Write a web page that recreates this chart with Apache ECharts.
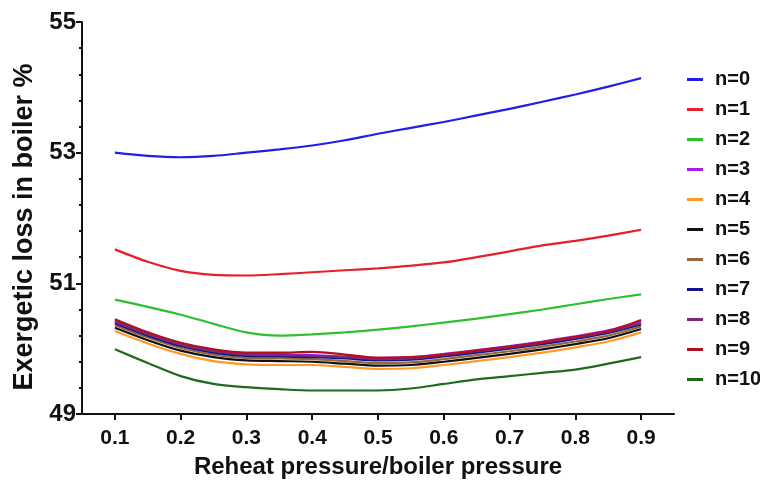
<!DOCTYPE html>
<html><head><meta charset="utf-8">
<script src="https://cdn.jsdelivr.net/npm/echarts@6/dist/echarts.min.js"></script>
<style>html,body{margin:0;padding:0;background:#fff}#c{width:760px;height:484px}</style>
</head><body><div id="c"></div>
<script>
const xValues = [0.1,0.15,0.2,0.25,0.3,0.35,0.4,0.45,0.5,0.55,0.6,0.65,0.7,0.75,0.8,0.85,0.9];
const xTicks = [0.1,0.2,0.3,0.4,0.5,0.6,0.7,0.8,0.9];
const seriesNames = ['n=0','n=1','n=2','n=3','n=4','n=5','n=6','n=7','n=8','n=9','n=10'];
const n0 = [53.00,52.95,52.93,52.95,53.00,53.05,53.11,53.19,53.29,53.38,53.47,53.57,53.67,53.78,53.89,54.01,54.14];
const n1 = [51.52,51.33,51.19,51.13,51.12,51.14,51.17,51.20,51.23,51.27,51.32,51.40,51.49,51.58,51.65,51.73,51.82];
const n2 = [50.75,50.64,50.52,50.38,50.25,50.20,50.22,50.25,50.29,50.34,50.40,50.46,50.53,50.60,50.68,50.76,50.83];
const n3 = [50.43,50.24,50.08,49.98,49.93,49.92,49.90,49.88,49.86,49.87,49.92,49.98,50.04,50.11,50.19,50.28,50.42];
const n4 = [50.27,50.08,49.92,49.81,49.76,49.75,49.75,49.72,49.69,49.70,49.75,49.81,49.87,49.94,50.02,50.11,50.25];
const n5 = [50.32,50.13,49.97,49.87,49.82,49.81,49.80,49.77,49.74,49.75,49.80,49.86,49.92,49.99,50.07,50.16,50.30];
const n6 = [50.36,50.17,50.01,49.91,49.86,49.85,49.84,49.81,49.78,49.79,49.84,49.90,49.96,50.03,50.11,50.20,50.34];
const n7 = [50.39,50.20,50.04,49.94,49.89,49.88,49.87,49.85,49.82,49.83,49.88,49.94,50.00,50.07,50.15,50.24,50.37];
const n8 = [50.41,50.22,50.06,49.96,49.91,49.90,49.89,49.87,49.84,49.85,49.90,49.96,50.02,50.09,50.17,50.26,50.39];
const n9 = [50.45,50.25,50.09,49.99,49.94,49.94,49.95,49.91,49.86,49.87,49.91,49.97,50.03,50.10,50.18,50.27,50.44];
const n10 = [49.99,49.78,49.58,49.46,49.41,49.38,49.36,49.36,49.36,49.39,49.46,49.53,49.58,49.63,49.68,49.77,49.87];
const allSeries = [n0,n1,n2,n3,n4,n5,n6,n7,n8,n9,n10];
const colors = ['#1f1fe6','#e4202a','#2fc02f','#a020e8','#ff9a2a','#111111','#94683e','#14148c','#7a2a78','#b01020','#1e6b1e'];

const chart = echarts.init(document.getElementById('c'), null, {renderer:'canvas'});
const font = 'Liberation Sans, Arial, sans-serif';
chart.setOption({
  animation:false,
  backgroundColor:'#ffffff',
  color: colors,
  grid:{left:82,right:86,top:22,bottom:67,containLabel:false},
  legend:{
    orient:'vertical', left:682, top:64,
    icon:'rect', itemWidth:16, itemHeight:3, itemGap:9,
    data: seriesNames,
    textStyle:{fontFamily:font,fontWeight:'bold',fontSize:20,color:'#111',lineHeight:21,padding:[0,0,0,7]}
  },
  xAxis:{
    type:'value', min:0.05, max:0.95,
    name:'Reheat pressure/boiler pressure', nameLocation:'middle', nameGap:41,
    nameTextStyle:{fontFamily:font,fontWeight:'bold',fontSize:24,color:'#111'},
    axisLine:{show:true,onZero:false,lineStyle:{color:'#111',width:2}},
    axisTick:{show:true,length:6,lineStyle:{color:'#111',width:2},customValues:xTicks},
    axisLabel:{fontFamily:font,fontWeight:'bold',fontSize:21,color:'#111',margin:14,customValues:xTicks,
      formatter:v=>v.toFixed(1)},
    splitLine:{show:false}
  },
  yAxis:{
    type:'value', min:49, max:55, interval:2,
    name:'Exergetic loss in boiler %', nameLocation:'middle', nameGap:44,
    nameTextStyle:{fontFamily:font,fontWeight:'bold',fontSize:27,color:'#111',padding:[0,18,0,0]},
    axisLine:{show:true,onZero:false,lineStyle:{color:'#111',width:2}},
    axisTick:{show:true,length:6,lineStyle:{color:'#111',width:2}},
    minorTick:{show:true,splitNumber:5,length:3,lineStyle:{color:'#111',width:2}},
    axisLabel:{fontFamily:font,fontWeight:'bold',fontSize:24,color:'#111',margin:6},
    splitLine:{show:false}
  },
  series: allSeries.map((arr,i)=>({
    name: seriesNames[i], type:'line', symbol:'none', smooth:0.3,
    lineStyle:{width:2.2,color:colors[i]}, itemStyle:{color:colors[i]},
    data: xValues.map((x,j)=>[x,arr[j]])
  }))
});
</script></body></html>
